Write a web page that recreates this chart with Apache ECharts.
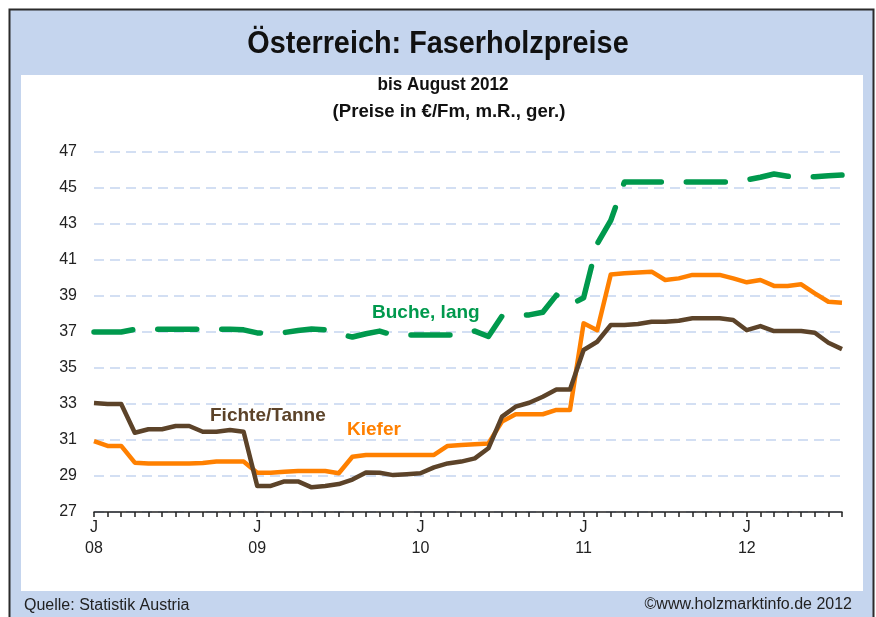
<!DOCTYPE html>
<html lang="de">
<head>
	<meta charset="UTF-8">
	<title>Österreich: Faserholzpreise</title>
	<style>
		html, body { margin: 0; padding: 0; background: #fff; }
		#main { width: 876px; height: 617px; }
	</style>
</head>
<body>
	<div id="main"></div>

<script src="https://cdn.jsdelivr.net/npm/echarts@6/dist/echarts.min.js"></script>
<script>
// Monate Jan 2008 - Aug 2012
var monthLetters = ['J', 'F', 'M', 'A', 'M', 'J', 'J', 'A', 'S', 'O', 'N', 'D'];
var years = ['08', '09', '10', '11', '12'];
var monthCount = 56;

var yTicks = { min: 27, max: 47, step: 2 };

// Preise in €/Fm
var fichteTanne = [
	33.05, 33.0, 33.0, 31.4, 31.6, 31.6, 31.78, 31.78, 31.46, 31.46, 31.55, 31.46,
	28.45, 28.45, 28.7, 28.7, 28.37, 28.44, 28.55, 28.8, 29.2, 29.18, 29.05, 29.1,
	29.15, 29.48, 29.7, 29.8, 29.98, 30.54, 32.3, 32.85, 33.07, 33.4, 33.8, 33.8,
	36.0, 36.46, 37.39, 37.39, 37.44, 37.57, 37.57, 37.63, 37.76, 37.76, 37.76, 37.67,
	37.1, 37.33, 37.05, 37.05, 37.05, 36.96, 36.4, 36.05
];
var kiefer = [
	30.94, 30.67, 30.67, 29.74, 29.7, 29.7, 29.7, 29.7, 29.72, 29.8, 29.8, 29.8,
	29.18, 29.18, 29.24, 29.28, 29.28, 29.28, 29.15, 30.07, 30.17, 30.17, 30.17, 30.17,
	30.17, 30.17, 30.67, 30.72, 30.76, 30.81, 32.02, 32.43, 32.43, 32.43, 32.67, 32.67,
	37.48, 37.1, 40.2, 40.26, 40.3, 40.35, 39.89, 39.98, 40.17, 40.17, 40.17, 39.98,
	39.76, 39.89, 39.56, 39.56, 39.65, 39.15, 38.68, 38.63
];
var bucheLang = [
	37.0, 37.0, 37.0, 37.15, 37.15, 37.15, 37.15, 37.15, 37.15, 37.15, 37.15, 37.12,
	36.95, 36.95, 36.97, 37.08, 37.17, 37.12, 36.9, 36.72, 36.9, 37.05, 36.83, 36.83,
	36.83, 36.83, 36.83, 36.83, 37.05, 36.75, 37.88, 37.9, 37.95, 38.1, 39.05, 38.5,
	38.9, 41.9, 43.2, 45.33, 45.33, 45.33, 45.33, 45.33, 45.33, 45.33, 45.33, 45.33,
	45.45, 45.6, 45.78, 45.65, 45.63, 45.63, 45.68, 45.72
];

var categories = [];
for (var i = 0; i < monthCount; i++) {
	categories.push(monthLetters[i % 12] + ' ' + years[Math.floor(i / 12)]);
}

var fontFamily = '"Liberation Sans", Arial, sans-serif';

var mainChart = echarts.init(document.getElementById('main'));

var option = {
	backgroundColor: '#ffffff',
	animation: false,
	graphic: [
		{
			type: 'rect',
			z: -10,
			shape: { x: 9.5, y: 9.5, width: 864, height: 620 },
			style: { fill: '#c5d5ee', stroke: '#2b2b2b', lineWidth: 2 }
		},
		{
			type: 'rect',
			z: -9,
			shape: { x: 21, y: 75, width: 842, height: 516 },
			style: { fill: '#ffffff' }
		},
		{
			type: 'text',
			x: 438, y: 44,
			scaleX: 0.93,
			style: {
				text: 'Österreich: Faserholzpreise',
				font: 'bold 31px ' + fontFamily,
				fill: '#111111',
				textAlign: 'center',
				textVerticalAlign: 'middle'
			}
		},
		{
			type: 'text',
			x: 443, y: 85,
			scaleX: 0.9,
			style: {
				text: 'bis August 2012',
				font: 'bold 19px ' + fontFamily,
				fill: '#111111',
				textAlign: 'center',
				textVerticalAlign: 'middle'
			}
		},
		{
			type: 'text',
			x: 449, y: 112,
			scaleX: 0.98,
			style: {
				text: '(Preise in €/Fm, m.R., ger.)',
				font: 'bold 19px ' + fontFamily,
				fill: '#111111',
				textAlign: 'center',
				textVerticalAlign: 'middle'
			}
		},
		{
			type: 'text',
			x: 24, y: 606,
			style: {
				text: 'Quelle: Statistik Austria',
				font: '16px ' + fontFamily,
				fill: '#222222',
				textAlign: 'left',
				textVerticalAlign: 'middle'
			}
		},
		{
			type: 'text',
			x: 852, y: 605,
			style: {
				text: '©www.holzmarktinfo.de 2012',
				font: '16px ' + fontFamily,
				fill: '#222222',
				textAlign: 'right',
				textVerticalAlign: 'middle'
			}
		},
		// Serienbeschriftungen
		{
			type: 'text',
			x: 210, y: 415.5,
			style: {
				text: 'Fichte/Tanne',
				font: 'bold 19px ' + fontFamily,
				fill: '#5c4329',
				textAlign: 'left',
				textVerticalAlign: 'middle'
			}
		},
		{
			type: 'text',
			x: 347, y: 430,
			style: {
				text: 'Kiefer',
				font: 'bold 19px ' + fontFamily,
				fill: '#ff8000',
				textAlign: 'left',
				textVerticalAlign: 'middle'
			}
		},
		{
			type: 'text',
			x: 372, y: 313,
			style: {
				text: 'Buche, lang',
				font: 'bold 19px ' + fontFamily,
				fill: '#00994d',
				textAlign: 'left',
				textVerticalAlign: 'middle'
			}
		}
	],
	grid: {
		left: 94,
		right: 34,
		top: 152,
		bottom: 105,
		containLabel: false
	},
	xAxis: {
		type: 'category',
		boundaryGap: false,
		data: categories,
		axisLine: { lineStyle: { color: '#222222', width: 1.5 } },
		axisTick: {
			interval: 0,
			length: 5,
			lineStyle: { color: '#222222', width: 1.5 }
		},
		axisLabel: {
			interval: 11,
			margin: 5,
			fontSize: 16,
			lineHeight: 21,
			fontFamily: fontFamily,
			color: '#222222',
			formatter: function (value) {
				return value.replace(' ', '\n');
			}
		},
		splitLine: { show: false }
	},
	yAxis: {
		type: 'value',
		min: yTicks.min,
		max: yTicks.max,
		interval: yTicks.step,
		axisLine: { show: false },
		axisTick: { show: false },
		axisLabel: {
			margin: 17,
			fontSize: 16,
			fontFamily: fontFamily,
			color: '#222222'
		},
		splitLine: {
			lineStyle: { color: '#c5d5ef', width: 1.5, type: [10, 6] }
		}
	},
	series: [
		{
			name: 'Buche, lang',
			type: 'line',
			data: bucheLang,
			showSymbol: false,
			z: 3,
			lineStyle: { color: '#00994d', width: 5.5, type: [39, 25], cap: 'round', join: 'round' }
		},
		{
			name: 'Kiefer',
			type: 'line',
			data: kiefer,
			showSymbol: false,
			z: 4,
			lineStyle: { color: '#ff8000', width: 4.5, join: 'round' }
		},
		{
			name: 'Fichte/Tanne',
			type: 'line',
			data: fichteTanne,
			showSymbol: false,
			z: 5,
			lineStyle: { color: '#5c4329', width: 4.5, join: 'round' }
		}
	]
};

mainChart.setOption(option);
</script>
</body>
</html>
